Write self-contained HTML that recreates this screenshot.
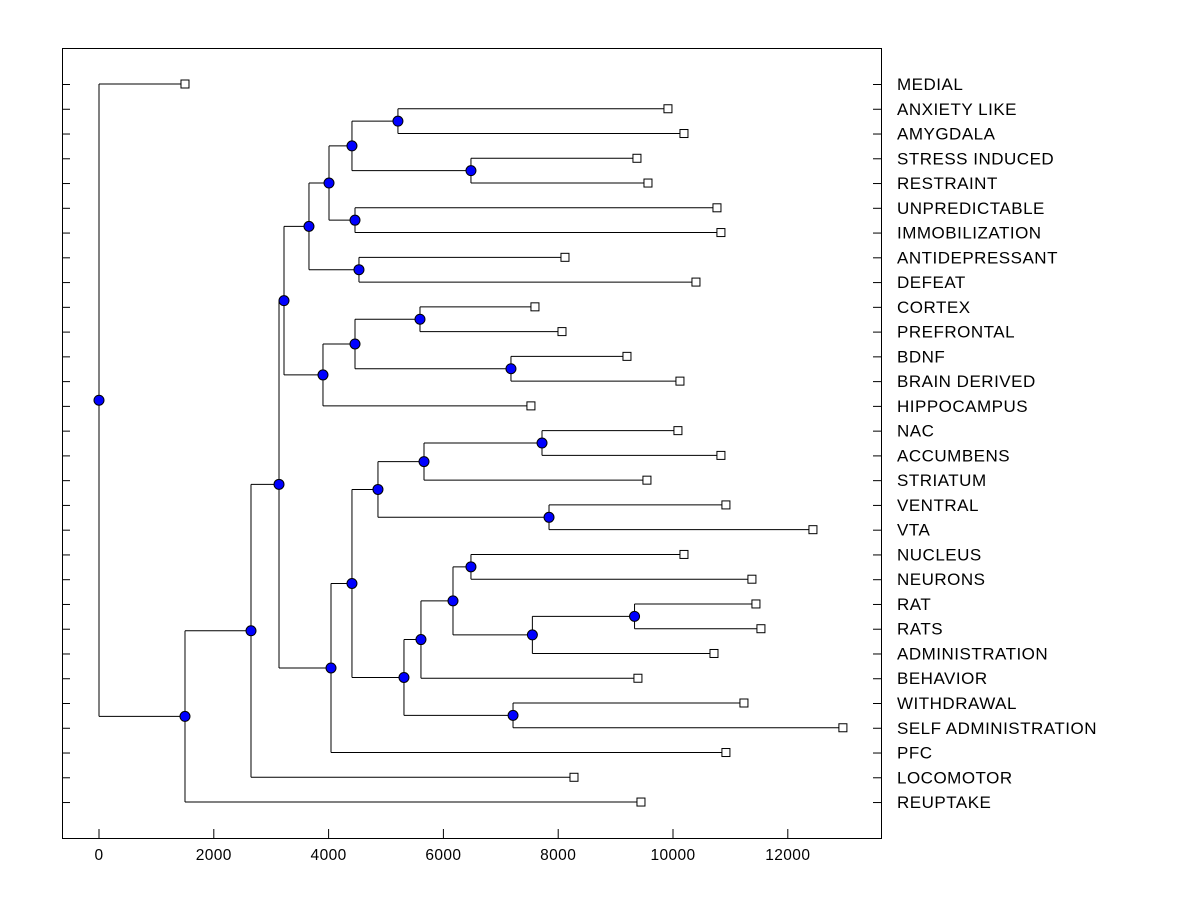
<!DOCTYPE html>
<html><head><meta charset="utf-8"><style>
body{margin:0;background:#fff}
svg{display:block;font-family:"Liberation Sans",Arial,sans-serif}
</style></head><body>
<svg id="chart" width="1200" height="900" viewBox="0 0 1200 900">
<rect x="62.5" y="48.5" width="819" height="790" fill="none" stroke="#000"/>
<g id="axis"></g><g id="links"></g><g id="marks"></g><g id="labels"></g>
</svg>
<script>
const leafLabels = ["MEDIAL","ANXIETY LIKE","AMYGDALA","STRESS INDUCED","RESTRAINT","UNPREDICTABLE","IMMOBILIZATION","ANTIDEPRESSANT","DEFEAT","CORTEX","PREFRONTAL","BDNF","BRAIN DERIVED","HIPPOCAMPUS","NAC","ACCUMBENS","STRIATUM","VENTRAL","VTA","NUCLEUS","NEURONS","RAT","RATS","ADMINISTRATION","BEHAVIOR","WITHDRAWAL","SELF ADMINISTRATION","PFC","LOCOMOTOR","REUPTAKE"];
const leafHeights = [1498,9912,10191,9372,9564,10766,10835,8118,10400,7595,8066,9198,10121,7525,10086,10835,9546,10922,12438,10191,11375,11445,11532,10714,9389,11236,12960,10922,8275,9442];
// tree: [mergeHeight, left, right]; numbers = leaf indices
const tree = [0, 0,
  [1498,
    [2648,
      [3136,
        [3223,
          [3658,
            [4007,
              [4407, [5208,1,2], [6480,3,4]],
              [4460,5,6]],
            [4529,7,8]],
          [3902,
            [4460, [5592,9,10], [7177,11,12]],
            13]],
        [4042,
          [4407,
            [4860,
              [5662, [7718,14,15], 16],
              [7840,17,18]],
            [5313,
              [5609,
                [6167, [6480,19,20], [7550, [9330,21,22], 23]],
                24],
              [7213,25,26]]],
          27]],
      28],
    29]];
const xTicks = [0,2000,4000,6000,8000,10000,12000];

const NS="http://www.w3.org/2000/svg";
const X0=99, SC=0.0574, Y0=84, DY=24.76;
const xs=v=>X0+v*SC, ys=i=>Y0+i*DY;
function mk(tag,attrs,parent){const e=document.createElementNS(NS,tag);for(const k in attrs)e.setAttribute(k,attrs[k]);document.getElementById(parent).appendChild(e);return e;}
xTicks.forEach(t=>{
  const l=mk('line',{x1:xs(t),x2:xs(t),y1:829,y2:838,stroke:'#000'},'axis');
  
  
  const tx=mk('text',{x:xs(t),y:860,'text-anchor':'middle','font-size':15.5,'letter-spacing':0.4},'axis');
  tx.textContent=t;
  
  
});
leafLabels.forEach((s,i)=>{
  const y=ys(i)+0.5;
  const a=mk('line',{x1:62,x2:70,y1:y,y2:y,stroke:'#000'},'axis');
  
  
  const b=mk('line',{x1:873,x2:881,y1:y,y2:y,stroke:'#000'},'axis');
  
  
  const t=mk('text',{x:897,y:ys(i)+6,'font-size':17,'letter-spacing':0.5},'labels');
  t.textContent=s;
  
  
});
function draw(n){
  if(typeof n==='number'){
    return {x:xs(leafHeights[n]), y:ys(n), leaf:true};
  }
  const a=draw(n[1]), b=draw(n[2]);
  const x=xs(n[0]), y=(a.y+b.y)/2;
  [a,b].forEach(c=>{
    const p=mk('line',{x1:x,x2:c.x,y1:c.y,y2:c.y,stroke:'#000'},'links');
    
    
    const v=mk('line',{x1:x,x2:x,y1:y,y2:c.y,stroke:'#000'},'links');
    
    
    if(c.leaf){
      const r=mk('rect',{x:c.x-4,y:c.y-4,width:8,height:8,fill:'#fff',stroke:'#000'},'marks');
      
      
    }
  });
  const d=mk('circle',{cx:x,cy:y,r:5,fill:'#0000ff',stroke:'#000'},'marks');
  
  
  return {x,y,leaf:false};
}
draw(tree);
</script>
</body></html>
